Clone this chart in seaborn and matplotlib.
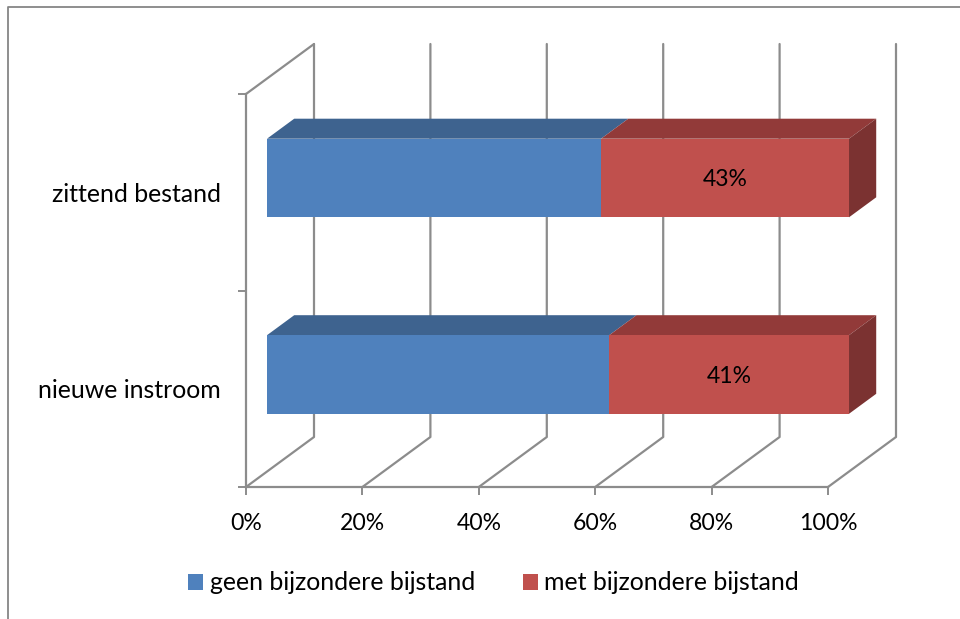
import matplotlib
matplotlib.use("Agg")
import matplotlib.pyplot as plt
import numpy as np
import pandas as pd
import seaborn as sns
from matplotlib.lines import Line2D
from matplotlib.patches import Patch, Polygon
from matplotlib.transforms import Affine2D, IdentityTransform

# -------------------------------------------------------
# Data
# -------------------------------------------------------
groepen = ["zittend bestand", "nieuwe instroom"]
geen_bijstand = [57.4, 58.8]
met_bijstand = [42.6, 41.2]
x_ticks = [0, 20, 40, 60, 80, 100]
serie_namen = ["geen bijzondere bijstand", "met bijzondere bijstand"]

BLUE, BLUE_TOP = "#4F81BD", "#3E638F"
RED, RED_TOP, RED_SIDE = "#C0504D", "#923A39", "#7B3231"
GRID = "#8C8C8C"
FONT_NUM = 16.6
FONT_TXT = 17.9

# 3D look: pixels per unit of depth, bars sit part way into the box
DEPTH = np.array([68.0, 50.0])
BAR_FRONT = np.array([0.309, 0.285])
BAR_BACK = BAR_FRONT + 0.4

sns.set_theme(style="white")
plt.rcParams["font.family"] = ["Lato", "DejaVu Sans"]

W, H = 960, 619
fig = plt.figure(figsize=(W / 100, H / 100), dpi=100)
ax = fig.add_axes([246 / W, (H - 487) / H, 582 / W, 393 / H])
ax.patch.set_alpha(0)

df = pd.DataFrame({"groep": groepen, "geen": geen_bijstand, "met": met_bijstand})
df["totaal"] = df["geen"] + df["met"]

# stacked: full bar in red, blue part on top of it
sns.barplot(data=df, y="groep", x="totaal", color=RED, saturation=1, width=0.4,
            linewidth=0, ax=ax)
sns.barplot(data=df, y="groep", x="geen", color=BLUE, saturation=1, width=0.4,
            linewidth=0, ax=ax)
ax.set_xlim(0, 100)
ax.set_ylim(1.5, -0.5)
ax.set_xlabel("")
ax.set_ylabel("")


def pt(x, y, depth=0.0):
    return ax.transData.transform((x, y)) + depth * DEPTH


def flat(points, **kwargs):
    ax.add_patch(Polygon(points, closed=True, transform=IdentityTransform(),
                         linewidth=0, clip_on=False, **kwargs))


def grid_line(points, zorder=0.5):
    xs, ys = zip(*points)
    ax.add_line(Line2D(xs, ys, color=GRID, lw=1.6, transform=IdentityTransform(),
                       clip_on=False, zorder=zorder))


# -------------------------------------------------------
# Back wall, floor and side wall
# -------------------------------------------------------
y_bottom, y_top = ax.get_ylim()
for t in x_ticks:
    grid_line([pt(t, y_bottom), pt(t, y_bottom, 1), pt(t, y_top, 1)])
grid_line([pt(0, y_top), pt(0, y_top, 1)])

# -------------------------------------------------------
# Bars: shift the front faces and add top and side faces
# -------------------------------------------------------
shift = ax.transData + Affine2D().translate(*(BAR_FRONT * DEPTH))
for bar in ax.patches:
    bar.set_transform(shift)
    bar.set_clip_on(False)
    bar.set_zorder(3)

for i in range(len(groepen)):
    bar = ax.patches[i]
    y_face_top = min(bar.get_y(), bar.get_y() + bar.get_height())
    y_face_bot = max(bar.get_y(), bar.get_y() + bar.get_height())
    split = geen_bijstand[i]
    total = df["totaal"].iloc[i]

    for x0, x1, colour in [(0, split, BLUE_TOP), (split, total, RED_TOP)]:
        flat([pt(x0, y_face_top, BAR_FRONT), pt(x1, y_face_top, BAR_FRONT),
              pt(x1, y_face_top, BAR_BACK), pt(x0, y_face_top, BAR_BACK)],
             facecolor=colour, zorder=2.5)
    flat([pt(total, y_face_top, BAR_FRONT), pt(total, y_face_bot, BAR_FRONT),
          pt(total, y_face_bot, BAR_BACK), pt(total, y_face_top, BAR_BACK)],
         facecolor=RED_SIDE, zorder=2.5)

    ax.annotate(f"{met_bijstand[i]:.0f}%", xy=(split + met_bijstand[i] / 2, i), xycoords=shift,
                xytext=(0, -1.2), textcoords="offset points", ha="center", va="center",
                fontsize=FONT_NUM, color="black", zorder=4)

# -------------------------------------------------------
# Axes, ticks and labels
# -------------------------------------------------------
for side in ["top", "right"]:
    ax.spines[side].set_visible(False)
for side in ["left", "bottom"]:
    ax.spines[side].set_color(GRID)
    ax.spines[side].set_linewidth(1.6)

ax.set_xticks(x_ticks)
ax.set_xticklabels([f"{t}%" for t in x_ticks], fontsize=FONT_NUM, color="black")
ax.tick_params(axis="x", length=5.5, width=1.4, color=GRID, pad=13.5, bottom=True)

ax.set_yticks([-0.5, 0.5, 1.5])
ax.set_yticklabels([])
ax.set_yticks(range(len(groepen)), labels=groepen, minor=True)
ax.tick_params(axis="y", which="major", length=5.5, width=1.4, color=GRID, left=True)
ax.tick_params(axis="y", which="minor", length=0, pad=18, labelsize=FONT_TXT,
               labelcolor="black")

# legend
handles = [Patch(facecolor=BLUE, linewidth=0), Patch(facecolor=RED, linewidth=0)]
fig.legend(handles, serie_namen, loc="center", bbox_to_anchor=(493.5 / W, (H - 583) / H),
           ncol=2, frameon=False, fontsize=FONT_TXT, handlelength=0.6,
           handleheight=0.6, handletextpad=0.25, columnspacing=1.93,
           labelcolor="black")

# chart frame, only top and left are in the picture
fig.add_artist(Line2D([8 / W, 8 / W, 1], [0, (H - 7) / H, (H - 7) / H], color="#868686",
                      lw=1.3, transform=fig.transFigure))

fig.savefig("out.png", dpi=100)
